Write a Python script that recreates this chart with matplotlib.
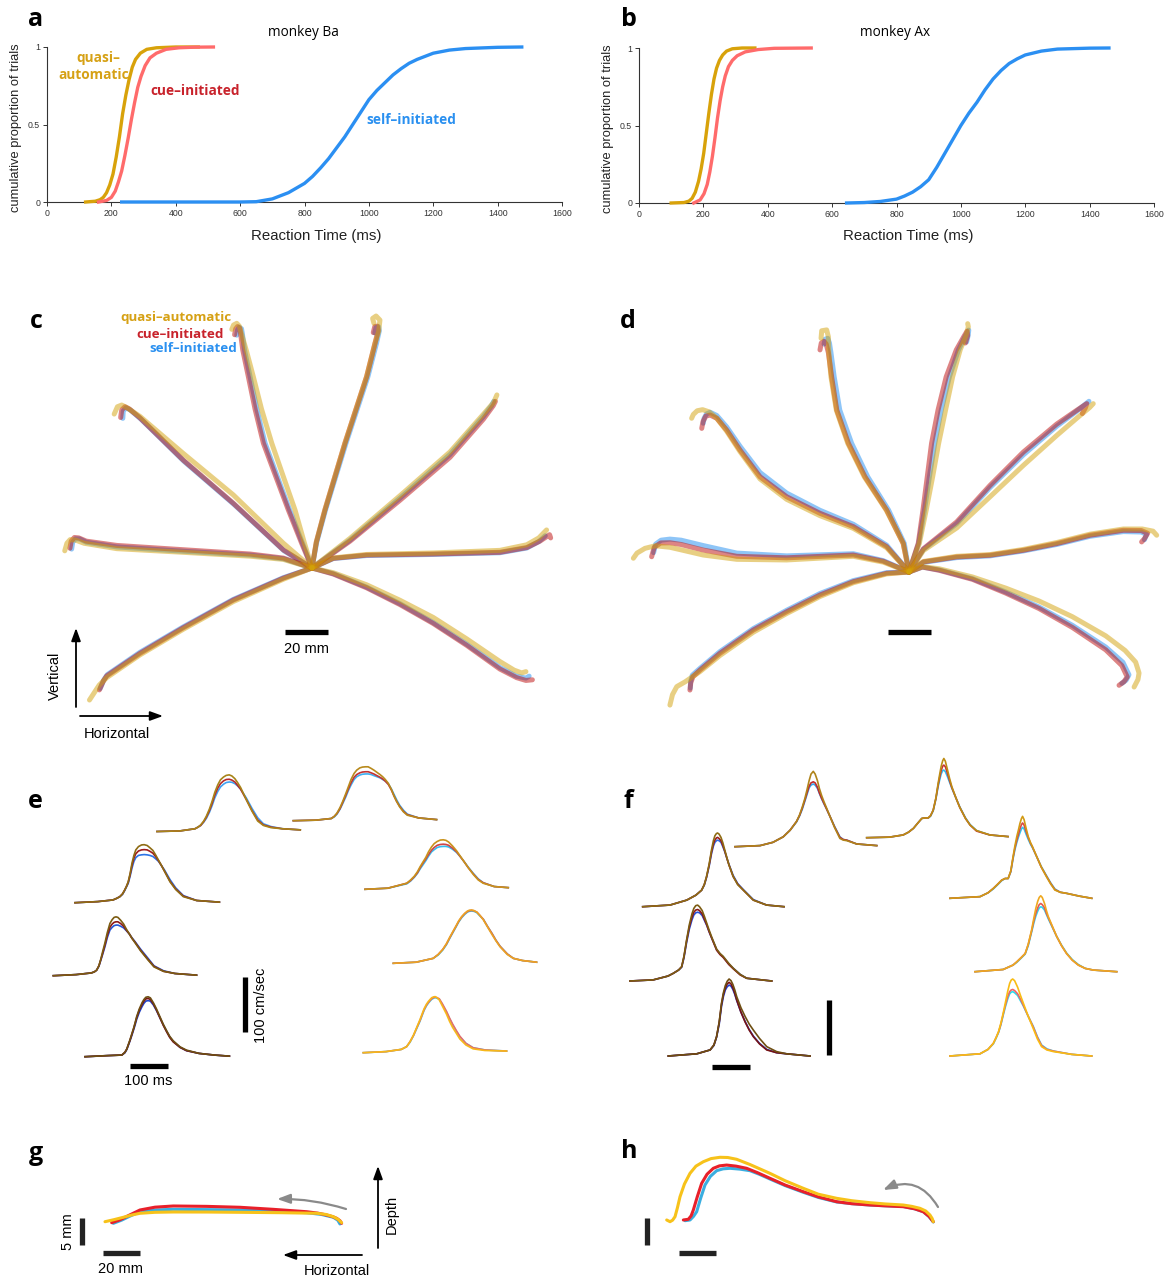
import matplotlib.pyplot as plt
from matplotlib.patches import FancyArrowPatch

W, H = 1168, 1280
SANS = ['Liberation Sans', 'DejaVu Sans']
MYR = ['Open Sans', 'DejaVu Sans']
plt.rcParams['font.family'] = SANS

# ---------------- data ----------------
# a / b : cumulative RT distributions (ms, proportion)
ba_quasi_rt = [120, 150, 165, 175, 185, 195, 205, 215, 225, 235, 245, 255, 265, 275, 290, 310, 340, 400, 470]
ba_quasi_p = [0, 0.005, 0.015, 0.03, 0.06, 0.11, 0.18, 0.29, 0.42, 0.57, 0.69, 0.79, 0.87, 0.92, 0.96, 0.985, 0.995, 1, 1]
ba_cue_rt = [160, 185, 200, 212, 222, 232, 242, 252, 262, 272, 282, 292, 305, 320, 340, 370, 410, 460, 517]
ba_cue_p = [0, 0.01, 0.03, 0.07, 0.13, 0.2, 0.3, 0.41, 0.53, 0.64, 0.74, 0.81, 0.88, 0.93, 0.96, 0.985, 0.995, 0.999, 1]
ba_self_rt = [232, 400, 600, 650, 700, 725, 750, 775, 800, 825, 850, 875, 900, 925, 950, 975, 1000, 1025, 1050,
              1075, 1100, 1125, 1150, 1175, 1200, 1250, 1300, 1400, 1475]
ba_self_p = [0, 0, 0, 0.002, 0.02, 0.04, 0.06, 0.09, 0.12, 0.165, 0.22, 0.28, 0.35, 0.42, 0.5, 0.58, 0.66, 0.72, 0.77,
             0.82, 0.86, 0.895, 0.92, 0.94, 0.96, 0.98, 0.99, 0.998, 1]

ax_quasi_rt = [100, 140, 155, 165, 175, 185, 193, 201, 209, 217, 225, 233, 241, 250, 260, 272, 290, 320, 360]
ax_quasi_p = [0, 0.003, 0.012, 0.03, 0.07, 0.14, 0.22, 0.32, 0.45, 0.58, 0.7, 0.8, 0.87, 0.92, 0.955, 0.98, 0.995, 1, 1]
ax_cue_rt = [170, 190, 202, 212, 220, 228, 236, 244, 252, 260, 268, 278, 290, 305, 330, 370, 420, 535]
ax_cue_p = [0, 0.02, 0.06, 0.12, 0.2, 0.3, 0.42, 0.55, 0.66, 0.75, 0.82, 0.88, 0.92, 0.95, 0.975, 0.99, 0.998, 1]
ax_self_rt = [645, 700, 750, 800, 825, 850, 875, 900, 925, 950, 975, 1000, 1025, 1050, 1075, 1100, 1125, 1150,
              1175, 1200, 1250, 1300, 1400, 1460]
ax_self_p = [0, 0.003, 0.01, 0.025, 0.045, 0.07, 0.105, 0.15, 0.23, 0.32, 0.41, 0.5, 0.58, 0.65, 0.73, 0.8, 0.855,
             0.9, 0.93, 0.955, 0.98, 0.993, 0.999, 1]

# c / d : hand paths (mm, horizontal / vertical), 8 targets
c_quasi = [
    [(0, 0), (-3.5, 11.5), (-7.9, 27), (-13.5, 43), (-18.7, 58), (-23.5, 74), (-27.3, 89), (-30.5, 101), (-32.8, 109), (-33.8, 112.5), (-35, 113.8), (-36.5, 113), (-37.3, 111)],
    [(0, 0), (-13.3, 11.5), (-36.6, 34), (-59.9, 53.3), (-80, 70.5), (-86, 74.5), (-88.5, 75.8), (-90.5, 75), (-92, 71.6)],
    [(0, 0), (-13.3, 4), (-28.8, 5.5), (-59.9, 7.3), (-90.8, 9), (-106, 11.5), (-110, 13), (-112.5, 13.2), (-114, 11.5), (-115, 8)],
    [(0, 0), (-13.3, -5.2), (-36.6, -15.6), (-59.9, -28.5), (-80, -40.4), (-95.5, -51), (-99, -54.5), (-103.5, -61.4)],
    [(0, 0), (2, 12), (6, 27), (15.3, 58), (25.4, 89), (29.3, 104.5), (31, 110), (31.6, 115.3), (29.8, 117.2), (28.2, 116.1), (28.8, 113.8)],
    [(0, 0), (17.7, 13.8), (40.9, 33.6), (64.2, 54), (79.7, 71.5), (84.5, 77), (86, 80.5)],
    [(0, 0), (9.9, 4.7), (25.4, 6.3), (56.4, 7), (87.4, 8.2), (99.9, 10.8), (105.5, 14), (109.1, 17.7)],
    [(0, 0), (9.9, -2.2), (25.4, -7.8), (40.9, -15), (56.4, -23), (72, -33), (87.4, -43.5), (94, -47.5), (97.5, -48.8), (99.5, -48.2)],
]
c_cue = [
    [(0, 0), (-4.8, 11.5), (-11, 27), (-17, 43), (-22.6, 58), (-26.5, 74), (-29.6, 89), (-32.2, 101.4), (-33.2, 109), (-33.6, 111.5), (-34.6, 112.3), (-35.5, 111.2), (-36, 108.5)],
    [(0, 0), (-13.3, 8.4), (-36.6, 30.1), (-59.9, 50.2), (-80, 69.8), (-85, 74), (-87, 75), (-88.5, 73.5), (-89, 70)],
    [(0, 0), (-13.3, 4.6), (-28.8, 6.5), (-59.9, 8.5), (-90.8, 10.5), (-105, 12.5), (-108.5, 14), (-110.5, 14.2), (-112, 12.5), (-112.6, 9.2)],
    [(0, 0), (-13.3, -4.7), (-36.6, -14.9), (-59.9, -27.8), (-80, -39.7), (-95.5, -50.2), (-97, -52.5), (-98.9, -56.7)],
    [(0, 0), (2, 12), (6, 27), (15.3, 58), (25.4, 89), (29.3, 104.5), (30.8, 110.5), (30.4, 112.5), (29.2, 112.3), (28.5, 109.5)],
    [(0, 0), (17.7, 12.5), (40.9, 31.5), (64.2, 51.5), (79.7, 69.2), (84.3, 75.5), (85.3, 77.5)],
    [(0, 0), (9.9, 4.5), (25.4, 6), (56.4, 6.5), (87.4, 7.3), (99.9, 9.5), (106, 12.5), (110.5, 15.5), (111, 14)],
    [(0, 0), (9.9, -2.8), (25.4, -9.2), (40.9, -17), (56.4, -25.8), (72, -36), (87.4, -47), (95.2, -51), (99.5, -52.3), (102.5, -52)],
]
c_self = [
    [(0, 0), (-4.4, 11.5), (-10.4, 27), (-16.3, 43), (-21.8, 58), (-25.7, 74), (-28.8, 89), (-31.4, 101.4), (-32.4, 109), (-32.8, 111.3), (-33.8, 112), (-34.6, 110.8), (-35, 108.3)],
    [(0, 0), (-13, 8), (-36.3, 29.6), (-59.5, 49.6), (-79.5, 69.2), (-84.5, 73.5), (-86.5, 74.5), (-87.8, 73), (-88, 69.6)],
    [(0, 0), (-13.3, 4.3), (-28.8, 6), (-59.9, 7.8), (-90.8, 9.8), (-105, 12), (-108, 13.5), (-110, 13.6), (-111.3, 12), (-111.8, 8.8)],
    [(0, 0), (-13.3, -4.5), (-36.6, -14.6), (-59.9, -27.4), (-80, -39.2), (-95.2, -49.6), (-96.8, -52), (-98.5, -56)],
    [(0, 0), (2.2, 12), (6.3, 27), (15.8, 58), (26, 89), (30, 104.5), (31.3, 110.3), (31, 112.2), (29.8, 112), (29.2, 109.3)],
    [(0, 0), (17.7, 13), (40.9, 32.5), (64.2, 52.8), (79.7, 70.5), (83.5, 75.5), (84.5, 77.5)],
    [(0, 0), (9.9, 4.4), (25.4, 5.8), (56.4, 6.3), (87.4, 7.1), (99.9, 9.3), (105.5, 12.3), (108.5, 15)],
    [(0, 0), (9.9, -2.6), (25.4, -8.9), (40.9, -16.6), (56.4, -25.4), (72, -35.5), (87.4, -46.3), (95, -50.3), (99.5, -51.2), (101, -50.3)],
]

d_quasi = [
    [(0, 0), (-2.7, 13.3), (-10.6, 28.8), (-20.8, 44.3), (-28.5, 59.9), (-33.8, 75.3), (-36.3, 90.8), (-37.3, 102), (-37.5, 109.4), (-38.3, 112.6), (-40.6, 112.2), (-40.9, 108.7)],
    [(0, 0), (-10.4, 11.3), (-25.9, 20.3), (-41.4, 26.2), (-56.9, 33.8), (-69.3, 43.3), (-78.6, 56), (-84.8, 65.5), (-89.4, 71.5), (-93, 74.5), (-96, 75.5), (-98.5, 75), (-100.3, 73.3), (-101.1, 71.5)],
    [(0, 0), (-12, 4.6), (-25.9, 7.3), (-56.9, 5.6), (-80.1, 5.9), (-95.7, 7.9), (-106, 10.3), (-111.2, 11.5), (-118, 12.2), (-122.8, 11), (-126.5, 8.8), (-128.2, 6.4)],
    [(0, 0), (-10.4, -0.9), (-25.9, -5), (-41.4, -11.4), (-56.9, -19.3), (-72.4, -28), (-87.9, -38.8), (-97.2, -46.3), (-104, -51), (-108, -53.3), (-110, -57), (-111.2, -61.9)],
    [(0, 0), (4.8, 13.3), (8, 28.8), (11, 44.3), (13.8, 59.9), (17, 75.3), (20.3, 90.8), (23.8, 103.3), (26.5, 110), (27.6, 114), (27.3, 115.5)],
    [(0, 0), (6.7, 10), (22.2, 20.5), (37.7, 35), (53.2, 49.6), (68.7, 63.5), (78, 71.5), (84, 76.5), (85.7, 78.3)],
    [(0, 0), (6.7, 4.9), (22.2, 7.3), (37.7, 8.1), (53.2, 10.5), (68.7, 13.7), (84.2, 17.6), (99.7, 20), (108.5, 20), (113.5, 19), (115.2, 17.1)],
    [(0, 0), (6.2, 2.5), (14, 1.5), (29.5, -2.3), (45, -7.5), (60.5, -13.5), (76, -20.8), (91.5, -29.7), (100.5, -36.5), (105.4, -41.9), (107, -47), (106.5, -50), (104.7, -53.5)],
]
d_cue = [
    [(0, 0), (-2.7, 13.3), (-10.4, 28.8), (-20.5, 44.3), (-28.2, 59.9), (-33.6, 75.3), (-36, 90.8), (-37.5, 102), (-38.5, 106), (-39.5, 107.3), (-40.8, 106.5), (-41.4, 103.3)],
    [(0, 0), (-10.4, 11.8), (-25.9, 21.1), (-41.4, 27.3), (-56.9, 35), (-69.3, 44.3), (-78.6, 56.7), (-84.8, 66), (-89.4, 71.5), (-92.5, 73), (-94.5, 72.5), (-95.8, 70), (-96.4, 66.8)],
    [(0, 0), (-12, 5), (-25.9, 7.9), (-56.9, 6.6), (-80.1, 7.3), (-95.7, 10.2), (-106, 12.8), (-111.2, 13.6), (-115.5, 13.5), (-118.5, 11.5), (-119.7, 7.1)],
    [(0, 0), (-10.4, -0.6), (-25.9, -4.5), (-41.4, -10.7), (-56.9, -18.5), (-72.4, -27), (-87.9, -37.8), (-97.2, -45.6), (-100.5, -48.7), (-101.5, -51.5), (-101.9, -54.9)],
    [(0, 0), (4.3, 13.3), (6.5, 28.8), (8.5, 44.3), (10.5, 59.9), (13.5, 75.3), (17.3, 90.8), (22, 103.3), (25.5, 109.5), (27, 112), (27.3, 110), (26.2, 106.5)],
    [(0, 0), (6.7, 10.8), (22.2, 23.3), (37.7, 40.3), (53.2, 55.8), (68.7, 68.8), (78, 75.2), (82.7, 78.3), (82, 76.3), (80.6, 73.7)],
    [(0, 0), (6.7, 4.7), (22.2, 7), (37.7, 7.8), (53.2, 10.1), (68.7, 13.2), (84.2, 17.1), (99.7, 19.4), (108, 19.3), (111, 18), (109.5, 15.5), (108.2, 14)],
    [(0, 0), (6.2, 2.3), (14, 0.8), (29.5, -3.4), (45, -9.8), (60.5, -17), (76, -25.8), (91.5, -36.2), (99, -43.5), (101.5, -48.8), (100, -51), (97.7, -52.7)],
]
d_self = [
    [(0, 0), (-2.2, 13.3), (-9.5, 28.8), (-19.2, 44.3), (-26.7, 59.9), (-32.2, 75.3), (-34.8, 90.8), (-36.3, 102), (-37, 106.5), (-37.8, 108.7), (-39, 108.3), (-39.5, 106)],
    [(0, 0), (-10.4, 12.5), (-25.9, 22.2), (-41.4, 28.7), (-56.9, 36.7), (-69.3, 46.3), (-78.6, 58.5), (-84.8, 67.5), (-89.4, 72.8), (-92.5, 74.3), (-94.2, 73.5), (-95.3, 71.5), (-95.7, 69.2)],
    [(0, 0), (-12, 5.3), (-25.9, 8.5), (-56.9, 7.5), (-80.1, 8.8), (-95.7, 12.3), (-106, 14.8), (-111.2, 15.3), (-115.3, 14.8), (-117.8, 13), (-118.8, 9)],
    [(0, 0), (-10.4, -0.3), (-25.9, -4), (-41.4, -10), (-56.9, -17.8), (-72.4, -26.3), (-87.9, -37), (-97.2, -44.8), (-100.8, -48), (-101.6, -51), (-101.7, -54)],
    [(0, 0), (4.5, 13.3), (7.2, 28.8), (9.5, 44.3), (12, 59.9), (15, 75.3), (18.8, 90.8), (23, 103.3), (26.3, 110), (27.8, 112.5), (27.5, 110), (26.8, 107)],
    [(0, 0), (6.7, 10.5), (22.2, 22.5), (37.7, 39.3), (53.2, 54.5), (68.7, 67.8), (78, 74.8), (83.7, 79.4)],
    [(0, 0), (6.7, 4.5), (22.2, 6.7), (37.7, 7.5), (53.2, 9.8), (68.7, 12.8), (84.2, 16.6), (99.7, 18.8), (108, 18.6), (110.5, 17.5), (109.5, 15)],
    [(0, 0), (6.2, 2.3), (14, 1), (29.5, -3.1), (45, -9.3), (60.5, -16.3), (76, -24.8), (91.5, -34.9), (99.5, -42), (102.3, -47.8), (101, -50.3), (99, -51.8)],
]

# e / f : speed profiles (ms, cm/sec), one per target
e_t = [
    [0, 60, 100, 108, 115, 123, 130, 138, 145, 152, 160, 167, 175, 182, 190, 197, 205, 212, 220, 235, 250, 265, 280, 300, 330, 377],
    [0, 60, 100, 108, 115, 123, 130, 138, 145, 152, 160, 167, 175, 182, 190, 197, 205, 212, 220, 228, 235, 242, 250, 258, 265, 272, 280, 290, 300, 330, 377],
    [0, 60, 100, 110, 118, 125, 130, 135, 140, 145, 150, 155, 160, 167, 175, 182, 190, 197, 205, 212, 220, 228, 235, 250, 265, 285, 320, 380],
    [0, 60, 100, 108, 114, 120, 125, 130, 136, 142, 149, 155, 160, 165, 170, 177, 185, 192, 200, 207, 215, 230, 250, 265, 290, 320, 377],
    [0, 60, 97, 105, 110, 118, 123, 128, 132, 136, 143, 150, 155, 160, 166, 172, 180, 188, 197, 206, 215, 223, 232, 250, 267, 300, 340, 380],
    [0, 60, 110, 120, 130, 138, 145, 152, 160, 167, 175, 182, 190, 198, 206, 213, 220, 230, 241, 250, 260, 272, 285, 298, 311, 340, 377],
    [0, 60, 105, 118, 130, 140, 149, 157, 165, 172, 180, 188, 195, 200, 206, 212, 220, 228, 237, 248, 260, 270, 281, 300, 316, 340, 377],
    [0, 60, 100, 114, 123, 132, 140, 149, 155, 160, 166, 171, 176, 180, 185, 189, 194, 200, 208, 219, 227, 235, 245, 254, 270, 289, 320, 377],
]
e_quasi = [
    [0, 1, 5, 8, 12, 19, 28, 41, 55, 71, 85, 94, 99, 102, 103, 101, 96, 89, 80, 58, 37, 19, 11, 7, 5, 3],
    [0, 1, 4, 8, 14, 24, 35, 49, 62, 75, 86, 92, 96, 97.5, 98, 98, 95, 92, 88, 84, 80, 75, 68, 57, 45, 35, 25, 16, 10, 5, 2],
    [0, 2, 5, 8, 11, 16, 22, 29, 38, 53, 72, 86, 96, 102, 105, 105.5, 104, 100, 95, 87, 77, 67, 58, 38, 24, 11, 4, 1],
    [0, 2, 5, 7, 10, 18, 30, 44, 60, 78, 95, 102, 106, 107, 106, 101, 94, 85, 76, 68, 60, 45, 28, 16, 8, 4, 1],
    [0, 2, 3, 8, 14, 30, 41, 52, 62, 73, 87, 98, 104, 108, 109, 107, 98, 87, 73, 59, 47, 37, 29, 18, 12, 6, 3, 1],
    [0, 2, 11, 17, 24, 32, 41, 49, 58, 68, 77, 83, 87, 89.5, 90, 89, 86, 79, 70, 61, 51, 39, 27, 17, 11, 5, 3],
    [0, 2, 9, 16, 25, 36, 48, 58, 68, 77, 85, 91, 95, 96.5, 97, 96, 93, 87, 79, 66, 52, 41, 30, 16, 9, 5, 2],
    [0, 2, 6, 11, 20, 32, 45, 60, 71, 80, 88, 93, 97, 100, 101.5, 102, 100, 96, 85, 70, 57, 46, 35, 25, 14, 7, 4, 3],
]
e_cue = [
    [0, 1, 5, 8, 11, 18, 26, 38, 51, 66, 79, 87, 92, 94.5, 95, 93.5, 90, 84, 77, 58, 38, 21, 12, 8, 5, 3],
    [0, 1, 4, 8, 13, 22, 33, 46, 58, 69, 79, 84, 87, 88.5, 89, 89, 87, 85, 82, 79, 76, 72, 66, 56, 45, 35, 26, 17, 11, 5, 2],
    [0, 2, 5, 8, 11, 16, 22, 29, 37, 51, 68, 81, 89, 94, 96, 96.5, 96, 93.5, 90, 84, 76, 67, 58, 39, 25, 12, 4, 1],
    [0, 2, 5, 7, 10, 18, 29, 41, 56, 73, 88, 94, 97, 98, 98, 95, 90, 83, 76, 68, 61, 46, 29, 17, 8, 4, 1],
    [0, 2, 3, 8, 14, 29, 40, 51, 61, 71, 85, 95, 101, 105, 106, 104, 96, 85, 71, 57, 45, 35, 27, 17, 11, 6, 3, 1],
    [0, 2, 11, 16, 23, 30, 39, 47, 55, 63, 71, 76, 80, 81.5, 82, 81.5, 80, 75, 68, 60, 51, 39, 28, 18, 12, 5, 3],
    [0, 2, 9, 16, 25, 35, 47, 57, 67, 76, 84, 90, 94, 95.5, 96, 95.5, 93, 87, 80, 67, 54, 42, 31, 17, 9, 5, 2],
    [0, 2, 6, 11, 20, 31, 44, 58, 69, 78, 86, 91, 95, 98, 100, 101, 100, 98, 89, 75, 63, 52, 40, 30, 17, 9, 5, 3],
]
e_self = [
    [0, 1, 5, 8, 11, 17, 24, 35, 47, 61, 73, 81, 86, 89, 90, 89.5, 87, 83, 77, 61, 42, 25, 14, 9, 5, 3],
    [0, 1, 4, 7, 12, 21, 31, 43, 55, 65, 75, 80, 83, 84.5, 85, 85, 84, 82, 80, 78, 75, 72, 67, 58, 48, 38, 28, 19, 12, 5, 2],
    [0, 2, 5, 8, 11, 15, 21, 28, 35, 48, 63, 75, 82, 86, 87, 87.5, 87, 86, 84, 80, 75, 67, 60, 42, 27, 13, 4, 1],
    [0, 2, 5, 7, 10, 17, 28, 39, 53, 69, 83, 88, 91, 92, 92, 90, 87, 82, 76, 69, 62, 48, 31, 18, 9, 4, 1],
    [0, 2, 3, 7, 13, 28, 38, 49, 58, 68, 81, 91, 97, 101, 102, 101, 94, 84, 71, 58, 46, 36, 28, 17, 11, 6, 3, 1],
    [0, 2, 10, 15, 22, 29, 37, 44, 52, 60, 68, 72, 76, 77.5, 78, 78, 77, 73, 67, 60, 51, 40, 29, 19, 12, 5, 3],
    [0, 2, 9, 15, 24, 34, 46, 56, 66, 75, 83, 89, 93, 94.5, 95, 94.5, 92, 86, 80, 67, 54, 42, 31, 17, 9, 5, 2],
    [0, 2, 6, 11, 19, 31, 43, 57, 68, 77, 85, 90, 94, 97, 99, 100, 99, 97, 88, 74, 62, 51, 39, 29, 17, 9, 5, 3],
]
f_t = [
    [0, 66, 100, 127, 145, 162, 170, 177, 184, 190, 195, 200, 206, 211, 217, 222, 228, 234, 240, 250, 262, 276, 285, 294, 320, 373],
    [0, 60, 96, 110, 123, 135, 145, 153, 162, 168, 175, 182, 188, 192, 196, 200, 203, 207, 212, 218, 224, 235, 245, 260, 272, 289, 324, 372],
    [0, 72, 116, 140, 155, 162, 168, 175, 181, 186, 190, 194, 197, 201, 206, 211, 216, 222, 227, 238, 250, 265, 291, 326, 372],
    [0, 61, 100, 114, 128, 136, 142, 149, 156, 163, 168, 173, 178, 183, 190, 196, 202, 208, 215, 222, 228, 237, 245, 260, 272, 290, 307, 373],
    [0, 75, 110, 120, 127, 134, 140, 145, 150, 155, 160, 165, 170, 175, 180, 191, 202, 213, 224, 240, 259, 285, 311, 373],
    [0, 79, 100, 114, 126, 136, 145, 153, 160, 166, 171, 176, 180, 184, 188, 191, 195, 200, 206, 212, 217, 228, 240, 254, 265, 276, 290, 307, 340, 373],
    [0, 74, 100, 110, 122, 132, 140, 149, 155, 160, 165, 169, 173, 177, 183, 188, 193, 204, 215, 228, 241, 256, 272, 290, 311, 373],
    [0, 79, 100, 114, 121, 128, 134, 140, 146, 152, 157, 161, 165, 170, 178, 185, 193, 206, 219, 230, 241, 255, 272, 320, 373],
]
f_quasi = [
    [0, 2, 8, 18, 30, 46, 58, 72, 88, 105, 120, 132, 137, 132, 120, 106, 93, 82, 72, 55, 35, 15, 12, 11, 5, 2],
    [0, 1, 5, 10, 17, 27, 35, 36, 36, 40, 50, 72, 99, 115, 130, 140, 144, 139, 125, 108, 93, 72, 55, 35, 23, 13, 5, 2],
    [0, 3, 12, 21, 30, 40, 55, 78, 103, 120, 129, 133, 134, 132, 126, 116, 103, 88, 76, 55, 40, 30, 12, 3, 0],
    [0, 2, 9, 14, 20, 26, 45, 75, 102, 122, 132, 137, 138, 135, 128, 117, 105, 93, 80, 68, 58, 50, 45, 32, 23, 12, 5, 0],
    [0, 4, 11, 20, 35, 62, 96, 115, 128, 136, 140, 137, 130, 120, 108, 88, 72, 58, 47, 32, 17, 8, 4, 0],
    [0, 3, 10, 18, 26, 33, 36, 36, 50, 76, 96, 113, 124, 136, 145, 149, 143, 128, 112, 101, 94, 76, 57, 39, 26, 15, 11, 9, 4, 0],
    [0, 4, 12, 18, 26, 33, 50, 76, 98, 115, 128, 135, 138, 135, 124, 111, 100, 82, 64, 47, 33, 21, 12, 6, 3, 0],
    [0, 4, 12, 23, 33, 45, 60, 78, 98, 118, 132, 138, 140, 137, 125, 111, 96, 72, 50, 31, 17, 11, 8, 3, 0],
]
f_cue = [
    [0, 2, 8, 18, 30, 46, 57, 70, 85, 99, 110, 116, 118, 116, 108, 98, 88, 79, 70, 55, 36, 17, 13, 12, 5, 2],
    [0, 1, 5, 10, 17, 27, 35, 36, 36, 40, 50, 71, 96, 110, 122, 130, 132, 129, 118, 104, 91, 72, 55, 35, 23, 12, 5, 2],
    [0, 3, 12, 21, 30, 40, 54, 76, 99, 114, 121, 125, 126, 124, 120, 111, 101, 87, 76, 55, 41, 30, 12, 3, 0],
    [0, 2, 9, 14, 20, 26, 44, 73, 98, 116, 125, 129, 130, 128, 122, 112, 102, 90, 78, 66, 56, 48, 43, 30, 22, 11, 5, 0],
    [0, 4, 11, 20, 35, 61, 94, 112, 124, 131, 134, 131, 124, 114, 102, 80, 62, 47, 35, 22, 11, 6, 4, 0],
    [0, 3, 10, 18, 26, 33, 36, 36, 49, 74, 92, 106, 116, 126, 134, 137, 133, 122, 110, 100, 93, 76, 57, 40, 27, 16, 11, 9, 4, 0],
    [0, 4, 12, 18, 26, 33, 49, 74, 93, 106, 116, 122, 124, 122, 116, 106, 98, 81, 64, 47, 33, 21, 12, 6, 3, 0],
    [0, 4, 12, 23, 33, 44, 58, 76, 93, 108, 117, 120, 121, 119, 113, 104, 92, 72, 53, 34, 19, 12, 9, 3, 0],
]
f_self = [
    [0, 2, 8, 18, 30, 45, 56, 68, 83, 96, 107, 112, 114, 112, 106, 97, 87, 78, 70, 55, 37, 18, 13, 12, 5, 2],
    [0, 1, 5, 10, 17, 27, 35, 36, 36, 39, 49, 70, 93, 105, 116, 122, 123, 120, 112, 101, 90, 72, 56, 36, 24, 13, 5, 2],
    [0, 3, 12, 21, 30, 39, 53, 74, 96, 110, 117, 120, 121, 120, 117, 109, 100, 87, 77, 57, 42, 31, 13, 3, 0],
    [0, 2, 9, 14, 20, 25, 42, 70, 94, 111, 120, 124, 125, 124, 119, 110, 101, 90, 78, 67, 57, 49, 44, 31, 23, 12, 5, 0],
    [0, 4, 11, 19, 34, 58, 90, 108, 120, 126, 129, 127, 121, 112, 101, 80, 63, 48, 36, 23, 12, 6, 4, 0],
    [0, 3, 10, 17, 25, 32, 36, 36, 48, 72, 89, 102, 111, 119, 126, 129, 126, 117, 107, 98, 92, 76, 58, 41, 28, 17, 11, 9, 4, 0],
    [0, 4, 12, 17, 25, 32, 47, 72, 89, 101, 110, 116, 118, 117, 112, 104, 96, 80, 64, 48, 34, 22, 13, 6, 3, 0],
    [0, 4, 12, 22, 32, 43, 57, 74, 90, 104, 113, 116, 117, 115, 110, 101, 91, 72, 54, 35, 20, 13, 9, 3, 0],
]

# g / h : paths in the horizontal-depth plane (mm)
g_quasi = [(0, 0.61), (5, 1.0), (9.9, 1.43), (14.5, 1.85), (18.9, 2.17), (27, 2.35), (36.9, 2.41), (55, 2.4), (73, 2.35),
           (95, 2.28), (114.4, 2.17), (119.5, 1.95), (123.4, 1.54), (126, 1.05), (127.9, 0.43)]
g_cue = [(3.6, 0.43), (8, 0.95), (13, 1.8), (18.9, 2.78), (27, 3.3), (36.9, 3.52), (55, 3.45), (73, 3.28), (91, 2.9),
         (109, 2.46), (115, 2.2), (119.8, 1.85), (123, 1.55), (125.2, 1.24), (127, 0.8), (127.9, 0.31)]
g_self = [(4.5, 0.31), (9, 0.9), (13.5, 1.65), (18.9, 2.46), (27, 2.78), (36.9, 2.9), (55, 2.85), (73, 2.78), (91, 2.55),
          (109, 2.28), (117, 1.95), (123.4, 1.43), (125.8, 0.9), (127, 0.19)]
h_quasi = [(0, 0.93), (1.8, 0.61), (3.2, 0.9), (4.5, 1.54), (5.8, 3.2), (7.2, 5.24), (9.6, 7.6), (12.6, 9.57), (15.8, 10.9),
           (19.8, 11.72), (24, 12.3), (28.8, 12.54), (33, 12.5), (37.8, 12.17), (45, 11.2), (55.8, 9.57), (64, 8.2),
           (73.8, 6.8), (82, 5.7), (91.9, 4.94), (100, 4.5), (109.9, 4.13), (118, 3.9), (127.9, 3.7), (132.5, 3.45),
           (136.9, 3.09), (140, 2.6), (142.3, 1.85), (143.5, 1.2), (144.1, 0.61)]
h_cue = [(9, 0.93), (11.7, 1.06), (13.2, 1.7), (14.4, 2.78), (16.5, 5.2), (18.9, 7.72), (21.8, 9.4), (25.2, 10.5),
         (28.5, 10.95), (32.4, 11.1), (37.5, 10.9), (43.2, 10.5), (49, 9.7), (55.8, 8.65), (64, 7.4), (73.8, 6.17),
         (82, 5.2), (91.9, 4.31), (100, 3.95), (109.9, 3.7), (118, 3.55), (127.9, 3.39), (134, 3), (138.7, 2.46),
         (141.8, 1.6), (144.1, 0.61)]
h_self = [(9.9, 0.8), (12.6, 0.93), (14.5, 1.6), (16.2, 2.46), (18.3, 4.9), (20.7, 7.41), (23.6, 9.0), (27, 10.06),
          (30.5, 10.4), (34.2, 10.5), (39.5, 10.35), (45, 10.06), (50, 9.4), (55.8, 8.52), (64, 7.3), (73.8, 6.06),
          (82, 5.1), (91.9, 4.26), (100, 3.95), (109.9, 3.7), (118, 3.56), (127.9, 3.43), (134, 3.0), (138.7, 2.46),
          (141.8, 1.55), (144.1, 0.56)]

# ---------------- styling / layout ----------------
GOLD_T, RED_T, BLUE_T = '#D6A115', '#C8222B', '#2A90F0'
CDF_COLS = ['#D8A20A', '#FF6B6B', '#2B8FF2']
TRAJ_COLS = ['#1F8CF0', '#BC0A0A', '#D2A108']   # self, cue, quasi (drawn with alpha)
e_cols = [('#A88419', '#B52A2A', '#3FA2F2'), ('#B88A1C', '#C23434', '#3DB0F2'), ('#8E6C14', '#9E1C1C', '#2C74E6'),
          ('#7C5C12', '#8C1818', '#2458D8'), ('#6E4E12', '#7A1212', '#1F44C8'), ('#C9931C', '#CF4545', '#35BDF2'),
          ('#EBA324', '#E05A50', '#30D2F0'), ('#F7B81A', '#E96A6A', '#2FE0F0')]
f_cols = [('#B0841A', '#BE2C2C', '#35A6F0'), ('#BD8D14', '#C83434', '#30BCF0'), ('#8E6C14', '#9A1C1C', '#2C6CE6'),
          ('#7C5C12', '#8A1818', '#2452DA'), ('#6E4E12', '#781212', '#1F40CC'), ('#D29A14', '#D84848', '#30C8F0'),
          ('#EEA820', '#E45A52', '#2CD6F0'), ('#F8BC14', '#EE6666', '#2ADEF2')]
e_pos = [(157, 831.5), (293.3, 820.7), (75, 902.7), (53.3, 975.7), (85, 1056.7), (365, 889.3), (393.3, 963.3), (363.3, 1052.7)]
f_pos = [(735, 846.7), (866.7, 837.7), (642.7, 906.7), (630, 981), (668.3, 1056), (950, 898.3), (975, 971.7), (950, 1056)]
PX_MM = 2.15            # c/d: pixels per mm
PX_MS, PX_CMS = 0.38, 0.55
GX, GY = 1.85, 5.4      # g/h: pixels per mm (horizontal, depth)

fig = plt.figure(figsize=(W / 100, H / 100), dpi=100)
fig.patch.set_facecolor('white')


def fx(px):
    return px / W


def fy(py):
    return 1 - py / H


def frame(x0, y0, x1, y1, ox, oy, sx, sy):
    # invisible axes over a pixel box; data (0,0) sits at pixel (ox, oy)
    ax = fig.add_axes([fx(x0), fy(y1), (x1 - x0) / W, (y1 - y0) / H])
    ax.set_xlim((x0 - ox) / sx, (x1 - ox) / sx)
    ax.set_ylim((oy - y1) / sy, (oy - y0) / sy)
    ax.axis('off')
    return ax


def text(px, py, s, **kw):
    kw.setdefault('ha', 'center')
    kw.setdefault('va', 'center')
    fig.text(fx(px), fy(py), s, **kw)


def arrow(p0, p1, color='k', rad=0.0, lw=1.3):
    fig.add_artist(FancyArrowPatch((fx(p0[0]), fy(p0[1])), (fx(p1[0]), fy(p1[1])), transform=fig.transFigure,
                                   arrowstyle='-|>,head_length=0.55,head_width=0.2', mutation_scale=14,
                                   lw=lw, color=color, connectionstyle=f'arc3,rad={rad}', shrinkA=0, shrinkB=0))


# panel letters
for s, (px, py) in zip('abcdefgh', [(36, 20), (629, 20), (36, 322), (628, 322), (35, 802), (628, 802), (36, 1153), (629, 1151)]):
    text(px, py, s, family=MYR, fontsize=18, fontweight='bold')

# ---- a, b ----
cdf_sets = [
    ((47, 47, 562, 202), [(ba_quasi_rt, ba_quasi_p), (ba_cue_rt, ba_cue_p), (ba_self_rt, ba_self_p)], 'monkey Ba'),
    ((639, 48, 1154, 203), [(ax_quasi_rt, ax_quasi_p), (ax_cue_rt, ax_cue_p), (ax_self_rt, ax_self_p)], 'monkey Ax'),
]
for (x0, y0, x1, y1), curves, title in cdf_sets:
    ax = fig.add_axes([fx(x0), fy(y1), (x1 - x0) / W, (y1 - y0) / H])
    for (rt, p), col in zip(curves, CDF_COLS):
        ax.plot(rt, p, color=col, lw=2.4, clip_on=False, zorder=3, solid_joinstyle='round')
    ax.set_xlim(0, 1600)
    ax.set_ylim(0, 1)
    ax.set_xticks(range(0, 1601, 200))
    ax.set_yticks([0, 0.5, 1])
    ax.set_yticklabels(['0', '0.5', '1'])
    ax.tick_params(labelsize=6.3, length=3, width=0.7, color='#333333', labelcolor='#333333', pad=2)
    ax.spines[['top', 'right']].set_visible(False)
    ax.spines[['left', 'bottom']].set_linewidth(0.8)
    ax.spines[['left', 'bottom']].set_color('#333333')
    ax.patch.set_alpha(0)
    cx = (x0 + x1) / 2
    text(x0 - 31, (y0 + y1) / 2 + 3, 'cumulative proportion of trials', rotation=90, fontsize=9.3, color='#222222')
    text(cx + 12, 236, 'Reaction Time (ms)', fontsize=10.8, color='#222222')
    text(cx - 1, 33, title, family=MYR, fontsize=9.8)

text(98, 58, 'quasi–', family=MYR, fontsize=9.8, fontweight='bold', color=GOLD_T)
text(94, 75, 'automatic', family=MYR, fontsize=9.8, fontweight='bold', color=GOLD_T)
text(195, 91, 'cue–initiated', family=MYR, fontsize=9.8, fontweight='bold', color=RED_T)
text(411, 120, 'self–initiated', family=MYR, fontsize=9.8, fontweight='bold', color=BLUE_T)

# ---- c, d ----
for (x0, y0, x1, y1, ox, oy), sets, bar in [
        ((40, 295, 575, 725, 312, 568), (c_self, c_cue, c_quasi), (-12.6, -29.8)),
        ((615, 295, 1168, 725, 909, 572), (d_self, d_cue, d_quasi), (-9.8, -27.9))]:
    ax = frame(x0, y0, x1, y1, ox, oy, PX_MM, PX_MM)
    for paths, col in zip(sets, TRAJ_COLS):
        for path in paths:
            xs, ys = zip(*path)
            ax.plot(xs, ys, color=col, lw=3.6, alpha=0.5, solid_capstyle='round', solid_joinstyle='round')
    ax.plot([bar[0], bar[0] + 20], [bar[1], bar[1]], color='k', lw=3.8, solid_capstyle='butt')

text(306, 649, '20 mm', fontsize=10.5)
text(231, 317, 'quasi–automatic', ha='right', family=MYR, fontsize=9.6, fontweight='bold', color=GOLD_T)
text(224, 335, 'cue–initiated', ha='right', family=MYR, fontsize=9.6, fontweight='bold', color=RED_T)
text(237, 348, 'self–initiated', ha='right', family=MYR, fontsize=9.6, fontweight='bold', color=BLUE_T)
arrow((76, 707), (76, 628))
arrow((80, 716), (163, 716))
text(55, 676, 'Vertical', rotation=90, fontsize=10.5)
text(117, 734, 'Horizontal', fontsize=10.5)

# ---- e, f ----
for pos, ts, qs, cs, ss, cols in [(e_pos, e_t, e_quasi, e_cue, e_self, e_cols),
                                   (f_pos, f_t, f_quasi, f_cue, f_self, f_cols)]:
    for (px, py), t, q, c, s, (cq, cc, cs_) in zip(pos, ts, qs, cs, ss, cols):
        ax = frame(px - 3, py - 95, px + 160, py + 4, px, py, PX_MS, PX_CMS)
        ax.plot(t, s, color=cs_, lw=1.2, solid_joinstyle='round')
        ax.plot(t, c, color=cc, lw=1.2, solid_joinstyle='round')
        ax.plot(t, q, color=cq, lw=1.2, solid_joinstyle='round')

for (x0, y0, vx) in [(130, 1066, 245), (712, 1067, 829)]:
    ax = frame(x0 - 20, y0 - 100, x0 + 140, y0 + 10, x0, y0, PX_MS, PX_CMS)
    ax.plot([0, 100], [0, 0], color='k', lw=3.8, solid_capstyle='butt')
    vxd = (vx - x0) / PX_MS
    lo = 12 / PX_CMS if x0 > 600 else 34 / PX_CMS
    ax.plot([vxd, vxd], [lo, lo + 100], color='k', lw=3.8, solid_capstyle='butt')
text(148, 1081, '100 ms', fontsize=10.5)
text(261, 1005, '100 cm/sec', rotation=90, fontsize=10.5)

# ---- g, h ----
for (x0, y0, x1, y1, ox), sets, bars in [
        ((60, 1140, 420, 1280, 105), (g_self, g_cue, g_quasi), ((82, 103))),
        ((630, 1140, 960, 1280, 666.7), (h_self, h_cue, h_quasi), ((647, 679)))]:
    ax = frame(x0, y0, x1, y1, ox, 1225, GX, GY)
    for path, col in zip(sets, ['#3AAEE0', '#E8202A', '#F7C21A']):
        xs, ys = zip(*path)
        ax.plot(xs, ys, color=col, lw=2.2, solid_capstyle='round', solid_joinstyle='round')
    vb, hb = bars
    ax.plot([(vb - ox) / GX] * 2, [(1225 - 1245) / GY, (1225 - 1245) / GY + 5], color='#222222', lw=3.8, solid_capstyle='butt')
    hx = (hb - ox) / GX
    ax.plot([hx, hx + 20], [(1225 - 1253) / GY] * 2, color='#222222', lw=3.8, solid_capstyle='butt')

text(68, 1232, '5 mm', rotation=90, fontsize=10.5)
text(121, 1269, '20 mm', fontsize=10.5)
arrow((378, 1248), (378, 1166))
arrow((362, 1255), (283, 1255))
text(392, 1214, 'Depth', rotation=90, fontsize=10.5)
text(337, 1271, 'Horizontal', fontsize=10.5)
arrow((346, 1209), (277, 1199), color='#8A8A8A', rad=0.08, lw=1.6)
arrow((938, 1207), (883, 1190), color='#8A8A8A', rad=0.45, lw=1.6)

fig.savefig('out.png', dpi=100)
